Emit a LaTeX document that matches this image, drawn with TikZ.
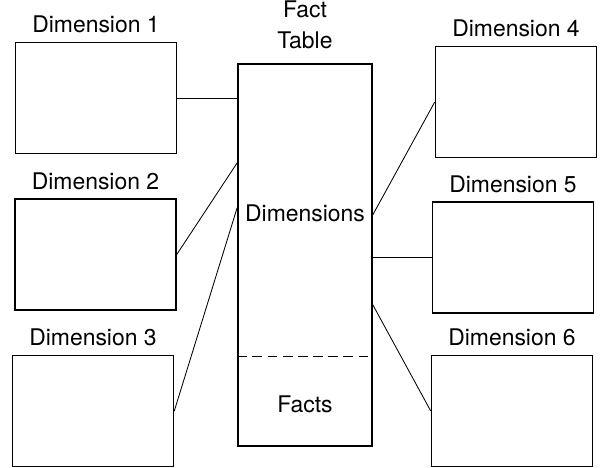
\documentclass[tikz,border=0pt]{standalone}
\usepackage{fontspec}
\setmainfont{TeX Gyre Heros}
\usetikzlibrary{calc,positioning}
\tikzset{
  dimbox/.style={draw, line width=1.2pt, minimum width=4.02cm, minimum height=2.78cm, inner sep=0pt},
  factbox/.style={draw, line width=1.2pt, minimum width=3.35cm, minimum height=9.55cm, inner sep=0pt},
  boxlabel/.style={inner sep=0pt},
  link/.style={line width=0.6pt}
}

\begin{document}
\begin{tikzpicture}[x=0.025cm, y=-0.025cm, font=\fontsize{16.3}{22}\selectfont]
      \useasboundingbox (0,0) rectangle (600,468);
      % Dimension tables
      \node[dimbox] (d1) at (96,98) {};
      \node[dimbox] (d2) at (95.5,254.5) {};
      \node[dimbox] (d3) at (93,411) {};
      \node[dimbox] (d4) at (516,102) {};
      \node[dimbox] (d5) at (513,257.5) {};
      \node[dimbox] (d6) at (512,411) {};
      \foreach \d/\n in {d1/1, d2/2, d3/3, d4/4, d5/5, d6/6}
        \node[boxlabel, above=0.2cm of \d] (\d lab) {Dimension \n};
      % Fact table
      \node[factbox] (fact) at (305,255) {};
      \node[boxlabel, align=center, above=0.35cm of fact] (factlab) {Fact\\Table};
      \coordinate (cutl) at ($(fact.north west)!0.764!(fact.south west)$);
      \coordinate (cutr) at ($(fact.north east)!0.764!(fact.south east)$);
      \draw[line width=1.1pt, dash pattern=on 7pt off 3.8pt] (cutl) -- (cutr);
      \node (dimtxt) at (305,213) {Dimensions};
      \node (facttxt) at (305,404) {Facts};
      % Links to the fact table
      \draw[link] (d1.east) -- (d1.east -| fact.west);
      \foreach \d/\t in {d2/0.26, d3/0.377}
        \draw[link] (\d.east) -- ($(fact.north west)!\t!(fact.south west)$);
      \foreach \d/\t in {d4/0.395, d6/0.63}
        \draw[link] (\d.west) -- ($(fact.north east)!\t!(fact.south east)$);
      \draw[link] (d5.west) -- (d5.west -| fact.east);
\end{tikzpicture}
\end{document}
